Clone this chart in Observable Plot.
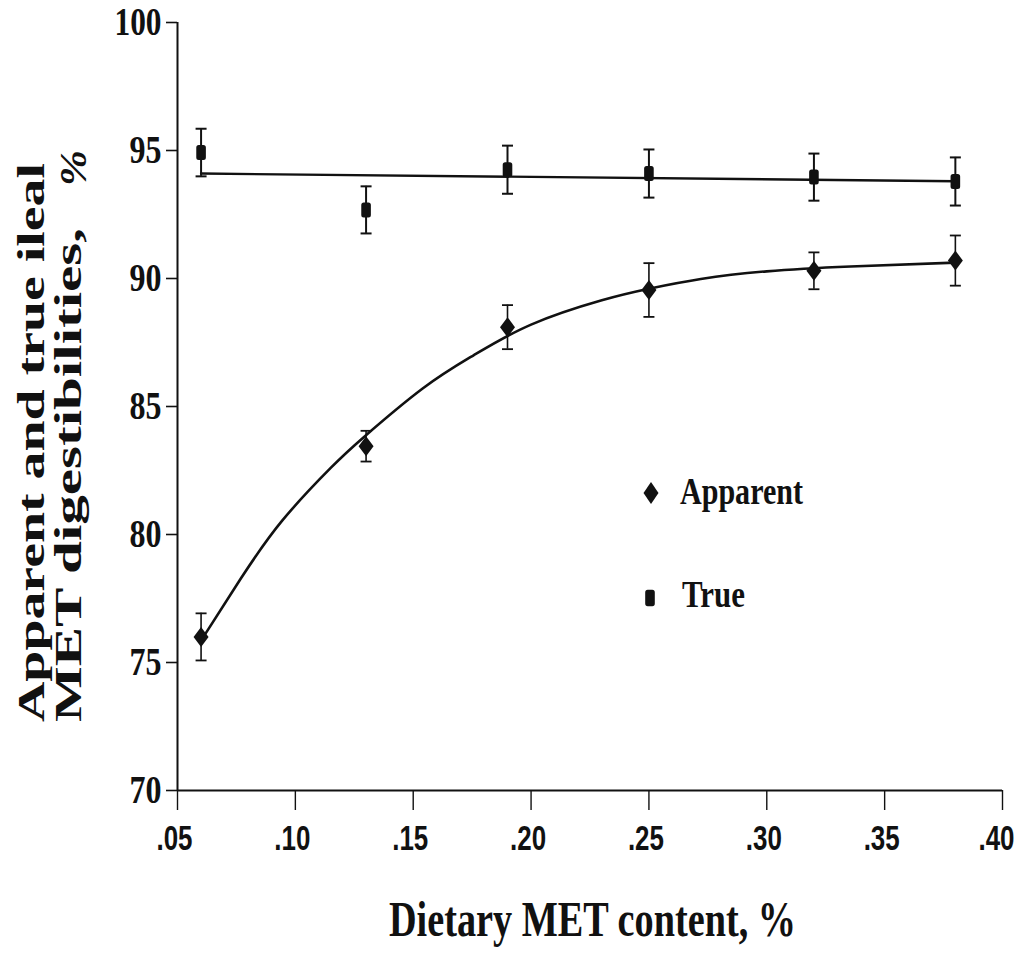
<!DOCTYPE html>
<html><head><meta charset="utf-8">
<script src="https://cdn.jsdelivr.net/npm/d3@7"></script>
<script src="https://cdn.jsdelivr.net/npm/@observablehq/plot@0.6"></script>
<style>body{margin:0;background:#fff} svg{display:block}</style>
</head><body><div id="chart"></div>
<script>
// Observed means
const dietMet = [0.06, 0.13, 0.19, 0.25, 0.32, 0.38];
const apparent = [76.0, 83.45, 88.1, 89.55, 90.3, 90.7];
const apparentErr = [0.92, 0.6, 0.86, 1.05, 0.72, 0.98];
const trueDig = [94.92, 92.68, 94.25, 94.1, 93.96, 93.79];
const trueErr = [0.93, 0.92, 0.94, 0.94, 0.92, 0.94];
// Fitted curves
const apparentFitX = [0.061, 0.077, 0.0945, 0.115, 0.129, 0.154, 0.1756, 0.20, 0.23, 0.25, 0.272, 0.30, 0.3355, 0.38];
const apparentFitY = [76.0, 78.3, 80.55, 82.6, 83.8, 85.7, 87.0, 88.2, 89.15, 89.6, 89.98, 90.28, 90.47, 90.62];
const trueFitX = [0.06, 0.38];
const trueFitY = [94.1, 93.8];
// Axes
const xTicks = [0.05, 0.10, 0.15, 0.20, 0.25, 0.30, 0.35, 0.40];
const yTicks = [70, 75, 80, 85, 90, 95, 100];
const xDomain = [0.05, 0.40];
const yDomain = [70, 100];

const ink = "#111";
const pts = dietMet.map((x, i) => ({x, app: apparent[i], appE: apparentErr[i], tru: trueDig[i], truE: trueErr[i]}));
const appFit = apparentFitX.map((x, i) => ({x, y: apparentFitY[i]}));
const truFit = trueFitX.map((x, i) => ({x, y: trueFitY[i]}));

const diamondSym = {draw(c){c.moveTo(0,-10);c.lineTo(7.5,0);c.lineTo(0,10);c.lineTo(-7.5,0);c.closePath();}};
const squareSym = {draw(c){const w=4.8,h=7.5,r=2.5;c.moveTo(-w+r,-h);c.lineTo(w-r,-h);c.arcTo(w,-h,w,-h+r,r);c.lineTo(w,h-r);c.arcTo(w,h,w-r,h,r);c.lineTo(-w+r,h);c.arcTo(-w,h,-w,h-r,r);c.lineTo(-w,-h+r);c.arcTo(-w,-h,-w+r,-h,r);c.closePath();}};
const capSym = {draw(c){c.moveTo(-5.5,0);c.lineTo(5.5,0);}};

const serif = "'Liberation Serif','Times New Roman',serif";
const narrow = "'Liberation Sans Narrow','Arial Narrow','Liberation Sans',Arial,sans-serif";

const plot = Plot.plot({
  width: 1021, height: 961,
  marginTop: 22, marginBottom: 171, marginLeft: 177, marginRight: 19,
  x: {domain: xDomain},
  y: {domain: yDomain},
  style: {background: "#fff", color: ink},
  marks: [
    Plot.axisY({ticks: yTicks, tickSize: 11, tickPadding: 5, label: null, fontSize: 39, fontFamily: serif, fontWeight: "bold", strokeWidth: 1.6}),
    Plot.axisX({ticks: xTicks, tickSize: 20, tickPadding: 15, label: null, fontSize: 35, fontFamily: narrow, fontWeight: "bold", strokeWidth: 1.4,
      tickFormat: d => d3.format(".2f")(d).replace(/^0/, "")}),
    Plot.ruleX([xDomain[0]], {y1: yDomain[0], y2: yDomain[1], stroke: ink, strokeWidth: 2}),
    Plot.ruleY([yDomain[0]], {x1: xDomain[0], x2: xDomain[1], stroke: ink, strokeWidth: 1.8}),
    Plot.line(truFit, {x: "x", y: "y", stroke: ink, strokeWidth: 2.4}),
    Plot.line(appFit, {x: "x", y: "y", stroke: ink, strokeWidth: 2.6, curve: "natural"}),
    // error bars
    Plot.ruleX(pts, {x: "x", y1: d => d.tru - d.truE, y2: d => d.tru + d.truE, stroke: ink, strokeWidth: 2}),
    Plot.dot(pts, {x: "x", y: d => d.tru + d.truE, symbol: capSym, fill: "none", stroke: ink, strokeWidth: 2}),
    Plot.dot(pts, {x: "x", y: d => d.tru - d.truE, symbol: capSym, fill: "none", stroke: ink, strokeWidth: 2}),
    Plot.ruleX(pts, {x: "x", y1: d => d.app - d.appE, y2: d => d.app + d.appE, stroke: ink, strokeWidth: 1.6}),
    Plot.dot(pts, {x: "x", y: d => d.app + d.appE, symbol: capSym, fill: "none", stroke: ink, strokeWidth: 1.8}),
    Plot.dot(pts, {x: "x", y: d => d.app - d.appE, symbol: capSym, fill: "none", stroke: ink, strokeWidth: 1.8}),
    // markers
    Plot.dot(pts, {x: "x", y: "tru", symbol: squareSym, fill: ink, stroke: "none"}),
    Plot.dot(pts, {x: "x", y: "app", symbol: diamondSym, fill: ink, stroke: "none"})
  ]
});
document.getElementById("chart").append(plot);

const svg = d3.select(plot);
svg.selectAll('g[aria-label="y-axis tick label"] text').each(function(){
  const t = this.textContent.trim();
  d3.select(this).attr("textLength", t.length >= 3 ? 47 : 32).attr("lengthAdjust", "spacingAndGlyphs");
});
svg.selectAll('g[aria-label="x-axis tick label"] text').each(function(){
  const last = this.textContent.trim() === ".40";
  d3.select(this).attr("textLength", 36).attr("lengthAdjust", "spacingAndGlyphs").attr("dx", last ? -6 : -3);
});

function addText(txt, x, y, size, len, rotate, extra) {
  const t = svg.append("text").text(txt)
    .attr("text-anchor", "start")
    .attr("font-family", serif).attr("font-weight", "bold").attr("font-size", size)
    .attr("fill", ink).attr("textLength", len).attr("lengthAdjust", "spacingAndGlyphs");
  if (rotate) t.attr("transform", `translate(${x},${y}) rotate(-90)`);
  else t.attr("x", x).attr("y", y);
  if (extra) extra(t);
  return t;
}
// y-axis title (two lines)
addText("Apparent and true ileal", 44, 722, 37, 559, true);
addText("MET digestibilities,", 81, 722, 37, 494, true);
addText("%", 86, 186, 38, 36, true, t => t.attr("font-style", "italic"));
// x-axis title
addText("Dietary MET content, %", 389, 936, 50, 407, false);
// legend
const lg = svg.append("g").attr("fill", ink);
lg.append("path").attr("d", d3.symbol(diamondSym)()).attr("transform", "translate(651,493) scale(1.0,1.1)");
lg.append("path").attr("d", d3.symbol(squareSym)()).attr("transform", "translate(650,598) scale(1.0,1.1)");
addText("Apparent", 680, 504, 38, 123, false);
addText("True", 682, 607, 38, 63, false);
</script>
</body></html>
